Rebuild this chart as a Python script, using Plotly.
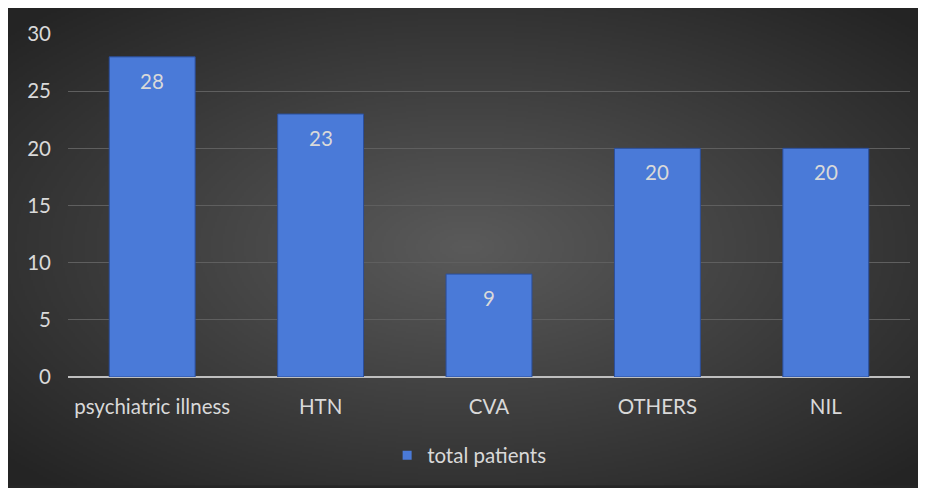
import base64, struct, zlib
import numpy as np
import plotly.graph_objects as go

categories = ["psychiatric illness", "HTN", "CVA", "OTHERS", "NIL"]
total_patients = [28, 23, 9, 20, 20]
series_name = "total patients"
y_ticks = [0, 5, 10, 15, 20, 25, 30]

# ---- radial gradient background as PNG data URI ----
def make_png(w, h, center=(0x5a, 0x5a, 0x5a), edge=(0x24, 0x24, 0x24)):
    xs = (np.arange(w) + 0.5) / w * 2 - 1
    ys = (np.arange(h) + 0.5) / h * 2 - 1
    X, Y = np.meshgrid(xs, ys)
    d = np.sqrt(X**2 + Y**2) / np.sqrt(2)
    t = np.clip(d * 1.05, 0, 1)
    img = np.zeros((h, w, 3), dtype=np.uint8)
    for i in range(3):
        img[:, :, i] = np.round(center[i] + (edge[i] - center[i]) * t).astype(np.uint8)
    raw = b"".join(b"\x00" + img[r].tobytes() for r in range(h))
    def chunk(tag, data):
        c = struct.pack(">I", len(data)) + tag + data
        return c + struct.pack(">I", zlib.crc32(tag + data) & 0xffffffff)
    png = b"\x89PNG\r\n\x1a\n"
    png += chunk(b"IHDR", struct.pack(">IIBBBBB", w, h, 8, 2, 0, 0, 0))
    png += chunk(b"IDAT", zlib.compress(raw, 9))
    png += chunk(b"IEND", b"")
    return "data:image/png;base64," + base64.b64encode(png).decode()

W, H = 918, 480
ml, mr, mt, mb = 60, 16, 26, 109
pw, ph = W - ml - mr, H - mt - mb

bg = make_png(460, 240)

txt = "#d9d9d9"
font_family = "Lato, 'Open Sans', sans-serif"
fs = 20.5

fig = go.Figure()
fig.add_trace(go.Bar(
    x=categories, y=total_patients, name=series_name,
    marker=dict(color="#4a7ad8", line=dict(color="#2b4f9c", width=1)),
    showlegend=False,
))
# legend entry with a small square swatch
fig.add_trace(go.Scatter(
    x=[None], y=[None], mode="markers", name=series_name,
    marker=dict(symbol="square", size=9, color="#4a7ad8"),
    showlegend=True,
))

for c, v in zip(categories, total_patients):
    fig.add_annotation(x=c, y=v, text=str(v), showarrow=False, yshift=-24,
                       font=dict(color=txt, size=fs, family=font_family))

fig.update_layout(
    width=W, height=H,
    margin=dict(l=ml, r=mr, t=mt, b=mb),
    paper_bgcolor="#262626",
    plot_bgcolor="rgba(0,0,0,0)",
    bargap=0.49,
    font=dict(family=font_family, color=txt, size=fs),
    images=[dict(
        source=bg, xref="paper", yref="paper",
        x=-ml / pw, y=(ph + mt) / ph,
        sizex=W / pw, sizey=H / ph,
        xanchor="left", yanchor="top", sizing="stretch", layer="below",
    )],
    legend=dict(orientation="h", x=0.477, xanchor="center", y=-0.229, yanchor="middle",
                font=dict(color=txt, size=fs, family=font_family),
                bgcolor="rgba(0,0,0,0)", itemwidth=30),
    xaxis=dict(showgrid=False, showline=False, ticks="", ticklabelstandoff=15,
               tickfont=dict(color=txt, size=fs)),
    yaxis=dict(range=[0, 30], tickvals=y_ticks, showgrid=True, gridcolor="#5f5f5f",
               gridwidth=1, zeroline=True, zerolinecolor="#bfbfbf", zerolinewidth=2,
               showline=False, ticks="", ticklabelstandoff=16,
               tickfont=dict(color=txt, size=fs)),
)

fig.write_html("out.html")
